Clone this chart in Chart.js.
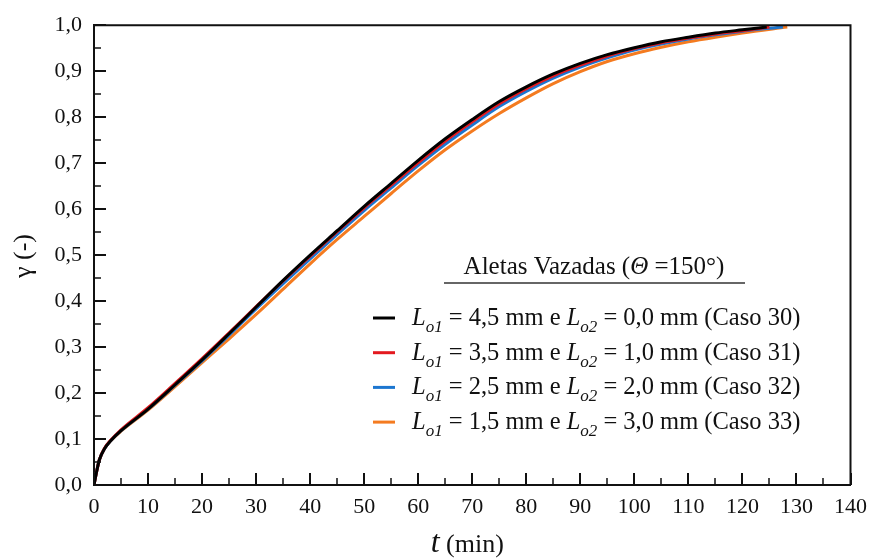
<!DOCTYPE html>
<html>
<head>
<meta charset="utf-8">
<script src="https://cdn.jsdelivr.net/npm/chart.js"></script>
<style>
  html, body { margin: 0; padding: 0; background: #fff; }
</style>
</head>
<body>
<canvas id="grafico" width="876" height="560"></canvas>
<script>
// tempo (min) e fração solidificada γ (-) de cada caso
var tempo30 = [0, 0.5, 1, 2, 3, 5, 10, 15, 20, 25, 30, 35, 40, 45, 50, 55, 60, 65, 70, 75, 80, 85, 90, 95, 100, 105, 110, 115, 120, 124.5];
var gama30  = [0, 0.03, 0.055, 0.08, 0.095, 0.118, 0.165, 0.218, 0.272, 0.329, 0.387, 0.445, 0.5, 0.553, 0.606, 0.656, 0.706, 0.753, 0.795, 0.834, 0.866, 0.894, 0.917, 0.936, 0.951, 0.964, 0.974, 0.983, 0.99, 0.996];

var tempo31 = [0, 0.5, 1, 2, 3, 5, 10, 15, 20, 25, 30, 35, 40, 45, 50, 55, 60, 65, 70, 75, 80, 85, 90, 95, 100, 105, 110, 115, 120, 125];
var gama31  = [0, 0.03, 0.055, 0.081, 0.096, 0.12, 0.168, 0.221, 0.275, 0.331, 0.388, 0.444, 0.498, 0.551, 0.603, 0.652, 0.701, 0.748, 0.79, 0.829, 0.862, 0.89, 0.913, 0.933, 0.949, 0.962, 0.972, 0.981, 0.988, 0.996];

var tempo32 = [0, 0.5, 1, 2, 3, 5, 10, 15, 20, 25, 30, 35, 40, 45, 50, 55, 60, 65, 70, 75, 80, 85, 90, 95, 100, 105, 110, 115, 120, 127.5];
var gama32  = [0, 0.03, 0.055, 0.08, 0.095, 0.118, 0.165, 0.217, 0.27, 0.326, 0.383, 0.438, 0.492, 0.545, 0.597, 0.646, 0.695, 0.741, 0.783, 0.823, 0.856, 0.885, 0.909, 0.929, 0.946, 0.959, 0.97, 0.979, 0.987, 0.996];

var tempo33 = [0, 0.5, 1, 2, 3, 5, 10, 15, 20, 25, 30, 35, 40, 45, 50, 55, 60, 65, 70, 75, 80, 85, 90, 95, 100, 105, 110, 115, 120, 128.3];
var gama33  = [0, 0.03, 0.055, 0.08, 0.095, 0.117, 0.163, 0.214, 0.266, 0.318, 0.371, 0.426, 0.481, 0.534, 0.584, 0.634, 0.683, 0.729, 0.77, 0.808, 0.842, 0.873, 0.899, 0.921, 0.938, 0.952, 0.964, 0.974, 0.983, 0.996];

// legenda
var lo1 = ['4,5', '3,5', '2,5', '1,5'];
var lo2 = ['0,0', '1,0', '2,0', '3,0'];
var casos = ['30', '31', '32', '33'];
var cores = ['#000000', '#e3191f', '#1c76d0', '#f47b20'];

var tempos = [tempo30, tempo31, tempo32, tempo33];
var gamas = [gama30, gama31, gama32, gama33];

var serif = "'Liberation Serif', 'Times New Roman', serif";

function pontos(t, g) {
    var p = [];
    for (var i = 0; i < t.length; i++) p.push({ x: t[i], y: g[i] });
    return p;
}

var datasets = [];
for (var k = 0; k < casos.length; k++) {
    datasets.push({
        label: 'Caso ' + casos[k],
        data: pontos(tempos[k], gamas[k]),
        borderColor: cores[k],
        borderWidth: 3,
        pointRadius: 0,
        cubicInterpolationMode: 'monotone',
        fill: false
    });
}

// escreve texto com partes em fontes diferentes (itálico, subscrito)
function textoRico(ctx, partes, x, y) {
    for (var i = 0; i < partes.length; i++) {
        ctx.font = partes[i].f;
        ctx.fillText(partes[i].t, x, y + (partes[i].dy || 0));
        x += ctx.measureText(partes[i].t).width;
    }
    return x;
}
function larguraRica(ctx, partes) {
    var w = 0;
    for (var i = 0; i < partes.length; i++) {
        ctx.font = partes[i].f;
        w += ctx.measureText(partes[i].t).width;
    }
    return w;
}

// ticks para dentro, moldura, títulos e legenda
var molduraPlugin = {
    id: 'moldura',
    afterDraw: function (chart) {
        var ctx = chart.ctx, a = chart.chartArea;
        var sx = chart.scales.x, sy = chart.scales.y;
        ctx.save();
        ctx.strokeStyle = '#111';
        ctx.lineWidth = 2;
        ctx.beginPath();
        ctx.moveTo(a.left, a.top);
        ctx.lineTo(a.right, a.top);
        ctx.lineTo(a.right, a.bottom);
        ctx.stroke();

        var v, px, py, len;
        for (v = 0; v <= 140; v += 5) {
            px = Math.round(sx.getPixelForValue(v));
            len = (v % 10 === 0) ? 12 : 7;
            ctx.lineWidth = (v % 10 === 0) ? 2 : 1.5;
            ctx.beginPath();
            ctx.moveTo(px, a.bottom);
            ctx.lineTo(px, a.bottom - len);
            ctx.stroke();
        }
        for (var i = 0; i <= 20; i++) {
            py = Math.round(sy.getPixelForValue(i * 0.05));
            len = (i % 2 === 0) ? 12 : 7;
            ctx.lineWidth = (i % 2 === 0) ? 2 : 1.5;
            ctx.beginPath();
            ctx.moveTo(a.left, py);
            ctx.lineTo(a.left + len, py);
            ctx.stroke();
        }

        ctx.fillStyle = '#111';
        ctx.textBaseline = 'alphabetic';

        // título eixo x
        var tx = [{ t: 't', f: 'italic 32px ' + serif }, { t: ' (min)', f: '26px ' + serif }];
        var cx = (a.left + a.right) / 2 - 5;
        textoRico(ctx, tx, cx - larguraRica(ctx, tx) / 2, 552);

        // título eixo y
        ctx.save();
        ctx.translate(31, 256);
        ctx.rotate(-Math.PI / 2);
        var ty = [{ t: 'γ (-)', f: '26px ' + serif }];
        textoRico(ctx, ty, -larguraRica(ctx, ty) / 2, 0);
        ctx.restore();

        // legenda
        var tit = [
            { t: 'Aletas Vazadas (', f: '25px ' + serif },
            { t: 'Θ', f: 'italic 25px ' + serif },
            { t: ' =150°)', f: '25px ' + serif }
        ];
        textoRico(ctx, tit, 594 - larguraRica(ctx, tit) / 2, 274);
        ctx.strokeStyle = '#333';
        ctx.lineWidth = 1.5;
        ctx.beginPath();
        ctx.moveTo(444, 283);
        ctx.lineTo(745, 283);
        ctx.stroke();

        for (var k = 0; k < casos.length; k++) {
            var yb = 325 + k * 34.7;
            ctx.strokeStyle = cores[k];
            ctx.lineWidth = 3;
            ctx.beginPath();
            ctx.moveTo(373, yb - 7);
            ctx.lineTo(395, yb - 7);
            ctx.stroke();
            textoRico(ctx, [
                { t: 'L', f: 'italic 24.5px ' + serif },
                { t: 'o1', f: 'italic 17px ' + serif, dy: 7 },
                { t: ' = ' + lo1[k] + ' mm e ', f: '24.5px ' + serif },
                { t: 'L', f: 'italic 24.5px ' + serif },
                { t: 'o2', f: 'italic 17px ' + serif, dy: 7 },
                { t: ' = ' + lo2[k] + ' mm (Caso ' + casos[k] + ')', f: '24.5px ' + serif }
            ], 412, yb);
        }
        ctx.restore();
    }
};

new Chart(document.getElementById('grafico'), {
    type: 'line',
    data: { datasets: datasets },
    options: {
        responsive: false,
        animation: false,
        devicePixelRatio: 1,
        layout: { padding: { top: 16, right: 19, left: 0, bottom: 0 } },
        plugins: { legend: { display: false }, tooltip: { enabled: false } },
        scales: {
            x: {
                type: 'linear',
                min: 0,
                max: 140,
                grid: { display: false, drawTicks: false },
                border: { display: true, color: '#111', width: 2 },
                ticks: {
                    stepSize: 10,
                    padding: 9,
                    color: '#111',
                    maxRotation: 0,
                    font: { family: serif, size: 22 }
                },
                afterFit: function (s) { s.height = 75; }
            },
            y: {
                type: 'linear',
                min: 0,
                max: 1,
                grid: { display: false, drawTicks: false },
                border: { display: true, color: '#111', width: 2 },
                ticks: {
                    stepSize: 0.1,
                    padding: 12,
                    color: '#111',
                    font: { family: serif, size: 22 },
                    callback: function (v) { return v.toFixed(1).replace('.', ','); }
                },
                afterFit: function (s) { s.width = 94; }
            }
        }
    },
    plugins: [molduraPlugin]
});
</script>
</body>
</html>
